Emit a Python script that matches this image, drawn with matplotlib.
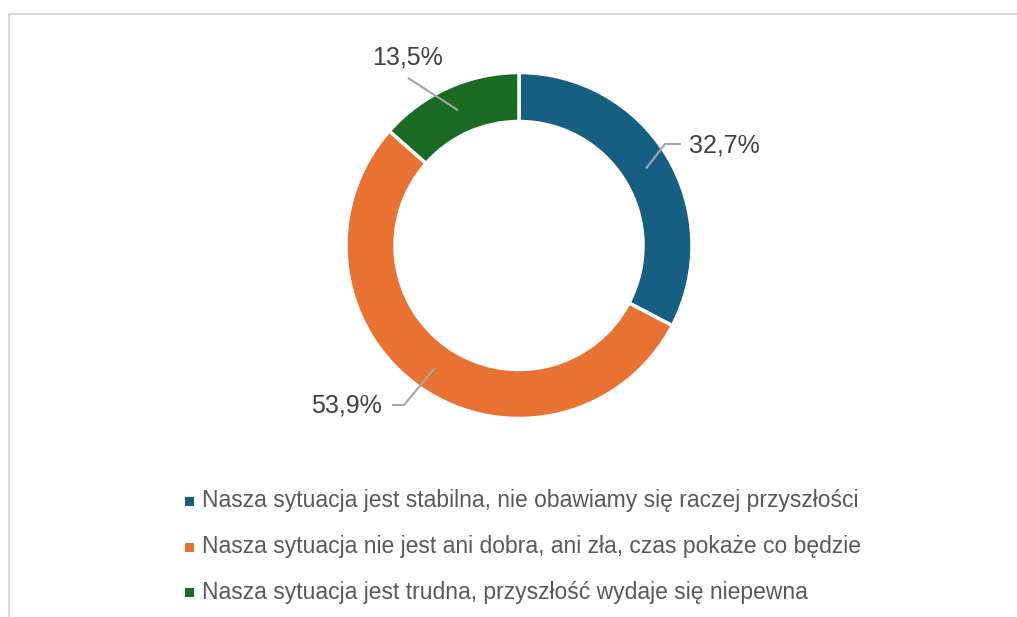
import numpy as np
import matplotlib
matplotlib.use('Agg')
from matplotlib import pyplot as plt
from matplotlib.patches import Rectangle

labels = ['Nasza sytuacja jest stabilna, nie obawiamy się raczej przyszłości',
          'Nasza sytuacja nie jest ani dobra, ani zła, czas pokaże co będzie',
          'Nasza sytuacja jest trudna, przyszłość wydaje się niepewna']
values = [32.7, 53.9, 13.5]
value_labels = ['32,7%', '53,9%', '13,5%']
colors = ['#156082', '#E97132', '#196B24']

plt.rcParams['font.family'] = ['Liberation Sans', 'DejaVu Sans']

W, H = 1017, 617
fig = plt.figure(figsize=(W / 100, H / 100), dpi=100)
ax = fig.add_axes([0, 0, 1, 1])

# pixel coords, y measured from the top
cx, cy, r_out, ring = 519, 245.5, 173, 49

wedges, _ = ax.pie(values, colors=colors, startangle=90, counterclock=False,
                   radius=r_out, center=(cx, H - cy),
                   wedgeprops=dict(width=ring, edgecolor='white', linewidth=2.5))
ax.set_xlim(0, W)
ax.set_ylim(0, H)
ax.set_aspect('auto')
ax.axis('off')

# data labels with leader lines: (elbow, line end, text pos, ha)
label_layout = [
    ((665, 144), (681, 144), (689, 146), 'left'),
    ((404, 405), (392, 405), (382, 406), 'right'),
    (None, (408, 78), (407, 58), 'center'),
]
r_mid = r_out - ring / 2
for w, txt, (elbow, end, tpos, ha) in zip(wedges, value_labels, label_layout):
    ang = np.deg2rad((w.theta1 + w.theta2) / 2)
    ax_pt = (cx + r_mid * np.cos(ang), cy - r_mid * np.sin(ang))
    pts = [ax_pt] + ([elbow] if elbow else []) + [end]
    xs = [p[0] for p in pts]
    ys = [H - p[1] for p in pts]
    ax.plot(xs, ys, color='#A6A6A6', lw=1.5, solid_capstyle='butt')
    ax.text(tpos[0], H - tpos[1], txt, ha=ha, va='center', fontsize=18, color='#404040')

# legend
leg_y = [501, 547, 592]
for lab, col, y in zip(labels, colors, leg_y):
    ax.add_patch(Rectangle((185, H - y - 4.5), 9, 9, facecolor=col, edgecolor='none'))
    ax.text(202, H - y, lab, ha='left', va='center', fontsize=16.5, color='#595959')

# chart area border
fig.add_artist(Rectangle((8.5 / W, -0.1), 1.2, (H - 13.5) / H + 0.1, transform=fig.transFigure,
                         fill=False, edgecolor='#D9D9D9', lw=1.5))

fig.savefig('out.png', dpi=100, facecolor='white')
